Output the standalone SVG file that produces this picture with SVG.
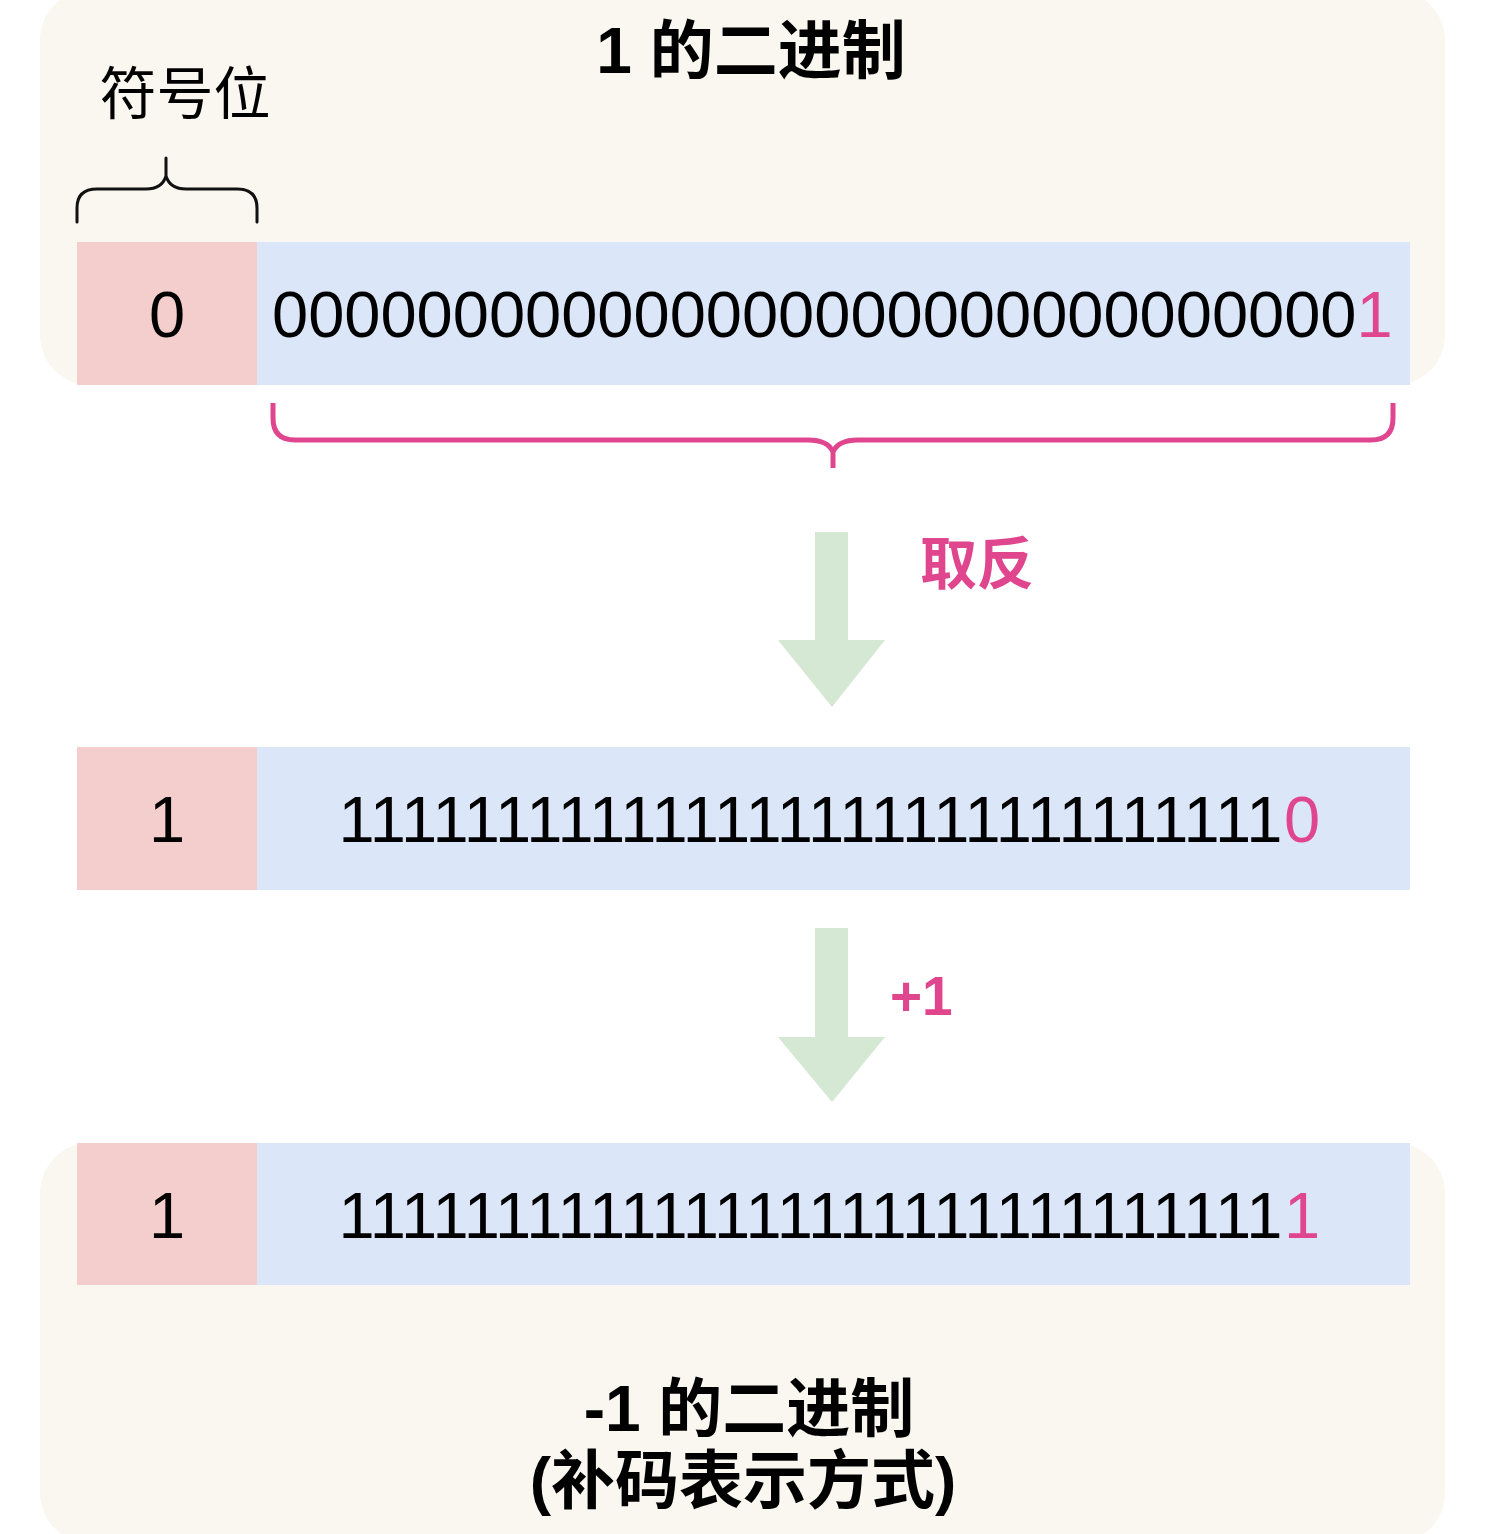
<svg xmlns="http://www.w3.org/2000/svg" width="1506" height="1534" viewBox="0 0 1506 1534">
  <style>
    .panel { fill: #f9f7ef; }
    .sign { fill: #f3cecd; }
    .bits { fill: #dbe6f9; }
    .digit { font-family: "Liberation Sans", Arial, sans-serif; font-size: 65px; fill: #000; }
    .hl { fill: #e0468e; }
    .title { font-family: "Liberation Sans", "Noto Sans CJK SC", sans-serif; font-size: 64px; font-weight: bold; fill: #000; text-anchor: middle; }
    .label { font-family: "Liberation Sans", "Noto Sans CJK SC", sans-serif; font-weight: bold; fill: #e0468e; }
    .note { font-family: "Liberation Sans", "Noto Sans CJK SC", sans-serif; font-size: 57px; fill: #000; text-anchor: middle; }
    .arrow { fill: #d5e8d4; }
    .brace-black { fill: none; stroke: #111; stroke-width: 3; stroke-linecap: round; }
    .brace-pink { fill: none; stroke: #e0468e; stroke-width: 5; stroke-linecap: butt; }
  </style>
  <rect width="1506" height="1534" fill="#ffffff"/>

  <g id="panel-top">
    <rect class="panel" x="40" y="-10" width="1405" height="395" rx="50" ry="50"/>
    <text class="title" x="751" y="73">1 的二进制</text>
    <text class="note" x="185" y="114">符号位</text>
  </g>

  <g id="panel-bottom">
    <rect class="panel" x="40" y="1143" width="1405" height="400" rx="50" ry="50"/>
    <text class="title" x="749" y="1431">-1 的二进制</text>
    <text class="title" x="743" y="1503">(补码表示方式)</text>
  </g>

  <g id="row-1">
    <rect class="sign" x="77" y="242" width="180" height="143"/>
    <rect class="bits" x="257" y="242" width="1153" height="143"/>
    <text class="digit" x="167" y="337" text-anchor="middle">0</text>
    <text class="digit" x="272" y="337">000000000000000000000000000000<tspan class="hl">1</tspan></text>
  </g>

  <g id="row-2">
    <rect class="sign" x="77" y="747" width="180" height="143"/>
    <rect class="bits" x="257" y="747" width="1153" height="143"/>
    <text class="digit" x="167" y="842" text-anchor="middle">1</text>
    <text class="digit" y="842" x="338.5 369.8 401.1 432.4 463.7 495 526.3 557.6 588.9 620.2 651.5 682.8 714.1 745.4 776.7 808 839.3 870.6 901.9 933.2 964.5 995.8 1027.1 1058.4 1089.7 1121 1152.3 1183.6 1214.9 1246.2">111111111111111111111111111111</text>
    <text class="digit hl" x="1284" y="842">0</text>
  </g>

  <g id="row-3">
    <rect class="sign" x="77" y="1143" width="180" height="142"/>
    <rect class="bits" x="257" y="1143" width="1153" height="142"/>
    <text class="digit" x="167" y="1238" text-anchor="middle">1</text>
    <text class="digit" y="1238" x="338.5 369.8 401.1 432.4 463.7 495 526.3 557.6 588.9 620.2 651.5 682.8 714.1 745.4 776.7 808 839.3 870.6 901.9 933.2 964.5 995.8 1027.1 1058.4 1089.7 1121 1152.3 1183.6 1214.9 1246.2">111111111111111111111111111111</text>
    <text class="digit hl" x="1284" y="1238">1</text>
  </g>

  <g id="connectors">
    <path class="brace-black" d="M77,222 V208 Q77,189 97,189 H146 Q162,189 166,176 Q170,189 186,189 H237 Q257,189 257,208 V222 M166,176 V158"/>
    <path class="brace-pink" d="M273,403 V418 Q273,440 295,440 H808 Q828,440 833,452 Q838,440 858,440 H1371 Q1393,440 1393,418 V403 M833,450 V468"/>
    <polygon class="arrow" points="815,532 848,532 848,640 885,640 832,707 778,640 815,640"/>
    <text class="label" x="920" y="584" font-size="57">取反</text>
    <polygon class="arrow" points="815,928 848,928 848,1037 885,1037 832,1102 778,1037 815,1037"/>
    <text class="label" x="890" y="1015" font-size="55">+1</text>
  </g>
</svg>
